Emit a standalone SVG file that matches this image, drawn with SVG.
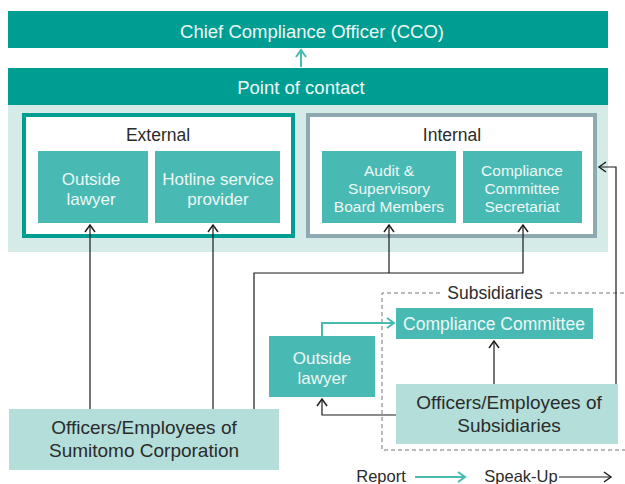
<svg xmlns="http://www.w3.org/2000/svg" width="625" height="484" viewBox="0 0 625 484">
<defs>
<style>
text{font-family:"Liberation Sans","DejaVu Sans",sans-serif;text-anchor:middle}
.w{fill:#eef8f6;font-size:17px}
.d{fill:#2b2b2b;font-size:17.5px}
.s3{font-size:15.5px}
.dk{fill:#009e92}
.md{fill:#48bab3}
.lt{fill:#b3ded9}
.bk{fill:none;stroke:#1a1a1a;stroke-width:1.2}
.tl{fill:none;stroke:#48bab3;stroke-width:2}
</style>
<marker id="ab" viewBox="0 0 12 12" refX="10" refY="6" markerWidth="12" markerHeight="12" markerUnits="userSpaceOnUse" orient="auto">
<path d="M3,1 L10,6 L3,11" fill="none" stroke="#1a1a1a" stroke-width="1.4"/>
</marker>
<marker id="at" viewBox="0 0 12 12" refX="10" refY="6" markerWidth="12" markerHeight="12" markerUnits="userSpaceOnUse" orient="auto">
<path d="M3,1 L10,6 L3,11" fill="none" stroke="#48bab3" stroke-width="2"/>
</marker>
</defs>
<rect x="0" y="0" width="625" height="484" fill="#fff"/>
<rect x="8" y="105" width="600" height="147" fill="#d5ebe8"/>
<g id="cco">
<rect class="dk" x="8" y="11" width="600" height="37"/>
<text class="w" x="312" y="38" style="font-size:18.5px">Chief Compliance Officer (CCO)</text>
</g>
<g id="poc">
<rect class="dk" x="8" y="68" width="600" height="37"/>
<text class="w" x="301" y="94" style="font-size:18.5px">Point of contact</text>
</g>
<g id="external">
<rect x="24" y="115" width="269" height="121" fill="#fff" stroke="#009e92" stroke-width="4"/>
<text class="d" x="158" y="141">External</text>
</g>
<g id="ext-lawyer">
<rect class="md" x="38" y="151" width="110" height="72"/>
<text class="w" x="91" y="185">Outside</text>
<text class="w" x="91" y="205">lawyer</text>
</g>
<g id="hotline">
<rect class="md" x="155" y="151" width="125" height="72"/>
<text class="w" x="218" y="185">Hotline service</text>
<text class="w" x="218" y="205">provider</text>
</g>
<g id="internal">
<rect x="308" y="115" width="287" height="121" fill="#fff" stroke="#8fa9b2" stroke-width="4"/>
<text class="d" x="452" y="141">Internal</text>
</g>
<g id="audit">
<rect class="md" x="322" y="151" width="134" height="72"/>
<text class="w s3" x="389" y="176">Audit &amp;</text>
<text class="w s3" x="389" y="194">Supervisory</text>
<text class="w s3" x="389" y="212">Board Members</text>
</g>
<g id="secretariat">
<rect class="md" x="463" y="151" width="119" height="72"/>
<text class="w s3" x="522" y="176">Compliance</text>
<text class="w s3" x="522" y="194">Committee</text>
<text class="w s3" x="522" y="212">Secretariat</text>
</g>
<g id="subsidiaries">
<path d="M440,293 H382 V450 H625 M550,293 H625" fill="none" stroke="#777" stroke-width="1" stroke-dasharray="4,3"/>
<text class="d" x="495" y="299">Subsidiaries</text>
</g>
<g id="sub-cc">
<rect class="md" x="396" y="308" width="197" height="31"/>
<text class="w" x="494" y="330" style="font-size:17.5px">Compliance Committee</text>
</g>
<g id="sub-lawyer">
<rect class="md" x="269" y="336" width="106" height="61"/>
<text class="w" x="322" y="364">Outside</text>
<text class="w" x="322" y="384">lawyer</text>
</g>
<g id="sumitomo">
<rect class="lt" x="9" y="409" width="270" height="61"/>
<text class="d" x="144" y="434" style="font-size:19px">Officers/Employees of</text>
<text class="d" x="144" y="457" style="font-size:19px">Sumitomo Corporation</text>
</g>
<g id="sub-officers">
<rect class="lt" x="396" y="384" width="222" height="60"/>
<text class="d" x="509" y="409" style="font-size:19px">Officers/Employees of</text>
<text class="d" x="509" y="432" style="font-size:19px">Subsidiaries</text>
</g>
<g id="connectors">
<path class="tl" d="M301,67 V50" marker-end="url(#at)"/>
<path class="bk" d="M90,409 V225" marker-end="url(#ab)"/>
<path class="bk" d="M213,409 V225" marker-end="url(#ab)"/>
<path class="bk" d="M254,409 V273 H523 V225" marker-end="url(#ab)"/>
<path class="bk" d="M389,273 V225" marker-end="url(#ab)"/>
<path class="bk" d="M616,384 V167 H599" marker-end="url(#ab)"/>
<path class="bk" d="M494,384 V341" marker-end="url(#ab)"/>
<path class="bk" d="M396,415 H322 V399" marker-end="url(#ab)"/>
<path class="tl" d="M322,336 V323 H394" marker-end="url(#at)"/>
</g>
<g id="legend">
<text class="d" x="381" y="482" style="font-size:16.5px">Report</text>
<path class="tl" d="M415,477 H465" marker-end="url(#at)"/>
<text class="d" x="521" y="482" style="font-size:16.5px">Speak-Up</text>
<path class="bk" d="M559,477 H611" marker-end="url(#ab)"/>
</g>
</svg>
